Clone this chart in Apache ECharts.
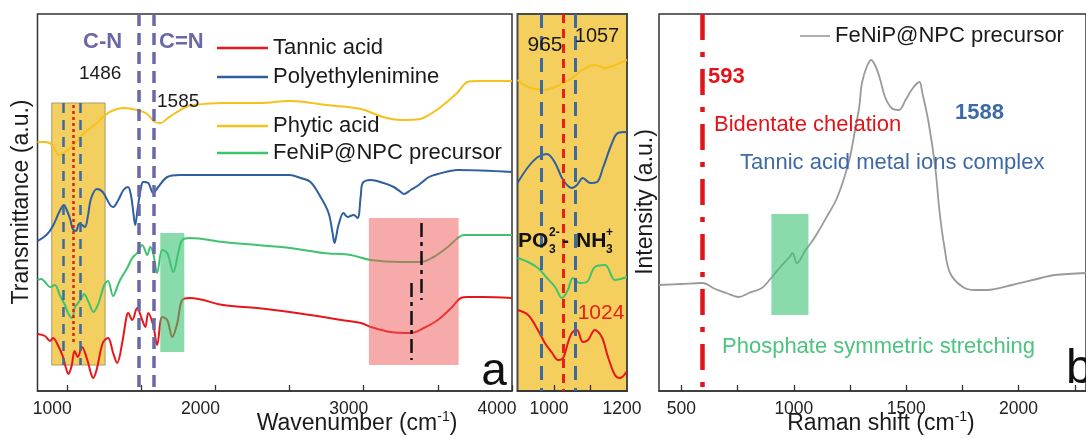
<!DOCTYPE html>
<html>
<head>
<meta charset="utf-8">
<script src="https://cdn.jsdelivr.net/npm/echarts@6/dist/echarts.min.js"></script>
<style>
  html, body { margin: 0; padding: 0; background: #fff; }
  #chart { width: 1086px; height: 438px; }
</style>
</head>
<body>
<div id="chart"></div>
<script>
// ---- FTIR spectra, 800-4000 cm-1 (wavenumber, transmittance a.u. with stacking offset) ----
const tannicFull = [[800,57],[850,55],[885,50],[905,53],[940,45],[970,35],[990,24],[1008,17],[1030,25],[1050,40],[1072,34],[1100,44],[1132,33],[1160,18],[1175,13],[1200,22],[1240,48],[1276,53],[1310,38],[1337,28],[1371,48],[1400,74],[1411,78],[1439,71],[1472,83],[1506,71],[1527,64],[1547,78],[1580,66],[1607,46],[1641,74],[1675,71],[1709,54],[1743,68],[1776,91],[1830,93],[2050,86],[2280,83],[2500,79],[2730,74],[2850,71],[2980,68],[3050,64],[3180,59],[3320,58],[3405,63],[3500,71],[3590,83],[3655,93],[3700,94],[3800,94],[4000,93]];
const peiFull = [[800,150],[860,156],[900,164],[950,180],[978,186],[1000,180],[1020,172],[1038,162],[1060,160],[1080,167],[1100,166],[1120,164],[1140,175],[1160,192],[1200,202],[1240,199],[1290,186],[1310,184],[1345,191],[1380,201],[1410,204],[1430,196],[1445,180],[1459,166],[1475,182],[1500,205],[1513,209],[1547,208],[1580,198],[1614,204],[1675,214],[1760,216],[1900,216],[2250,216],[2500,216],[2574,213],[2641,209],[2709,194],[2763,178],[2790,158],[2803,148],[2815,155],[2830,166],[2864,178],[2891,174],[2932,176],[2959,173],[2980,195],[2993,208],[3047,211],[3134,208],[3202,204],[3250,199],[3270,197],[3317,201],[3371,206],[3440,214],[3500,217],[3634,221],[4000,219]];
const phyticFull = [[800,249],[850,249],[900,246],[945,236],[975,238],[1020,243],[1060,249],[1100,256],[1120,259],[1150,262],[1200,268],[1250,275],[1300,280],[1380,283],[1470,281],[1540,277],[1590,269],[1630,268],[1680,273],[1720,277],[1800,284],[1850,286],[2050,288],[2300,288],[2500,290],[2600,289],[2750,286],[2980,282],[3130,274],[3250,271],[3380,272],[3450,277],[3520,284],[3630,298],[3700,309],[3770,310],[4000,310]];
const precursorFull = [[800,111],[825,112],[851,109],[884,104],[918,106],[950,96],[985,86],[1006,78],[1033,73],[1053,84],[1074,88],[1101,94],[1114,97],[1141,90],[1178,79],[1212,88],[1250,106],[1275,110],[1310,95],[1335,103],[1357,111],[1405,123],[1439,133],[1472,138],[1506,146],[1541,136],[1560,144],[1580,138],[1607,118],[1641,141],[1675,138],[1716,119],[1749,138],[1776,151],[1830,153],[2053,149],[2283,146],[2506,143],[2729,138],[2911,136],[3047,131],[3249,129],[3384,129],[3472,134],[3567,144],[3634,153],[3675,156],[4000,156]];

// ---- FTIR detail, 900-1200 cm-1 ----
const tannicDetail = [[901,81],[929,76],[956,61],[975,48],[995,38],[1011,31],[1025,33],[1038,48],[1049,58],[1063,61],[1079,49],[1093,51],[1112,61],[1131,54],[1148,34],[1167,16],[1181,13],[1200,20]];
const peiDetail = [[900,208],[929,224],[956,234],[981,237],[1003,228],[1025,211],[1049,203],[1063,206],[1079,213],[1099,208],[1118,209],[1134,223],[1159,248],[1175,258],[1200,259]];
const phyticDetail = [[900,311],[929,304],[967,301],[1003,304],[1049,313],[1077,321],[1112,326],[1140,323],[1167,326],[1200,331]];
const precursorDetail = [[900,133],[929,129],[956,123],[981,113],[1003,104],[1022,93],[1038,101],[1052,113],[1071,108],[1090,109],[1112,124],[1140,126],[1167,111],[1200,114]];

// ---- Raman spectrum of the precursor (Raman shift cm-1, intensity a.u.) ----
const ramanPrecursor = [[400,106],[500,107],[593,108],[650,102],[700,98],[754,94],[800,98],[858,103],[899,113],[940,124],[981,134],[994,138],[1014,128],[1052,141],[1076,148],[1105,158],[1146,174],[1188,191],[1221,211],[1250,234],[1270,258],[1291,284],[1303,308],[1324,324],[1344,331],[1361,326],[1381,314],[1406,294],[1435,283],[1468,281],[1497,291],[1530,303],[1559,309],[1571,299],[1600,268],[1629,224],[1649,178],[1670,144],[1695,118],[1752,104],[1806,101],[1860,101],[1971,106],[2100,113],[2160,116],[2300,118]];

// ---- axis ticks and labels ----
const ftirTicks = [1000, 1500, 2000, 2500, 3000, 3500, 4000];
const ftirLabels = [1000, 2000, 3000, 4000];
const detailTicks = [1000, 1100];
const detailLabels = [1000, 1200];
const ramanTicks = [500, 750, 1000, 1250, 1500, 1750, 2000, 2250];
const ramanLabels = [500, 1000, 1500, 2000];

// ---- band assignments ----
const cnBands = [1486, 1585];          // C-N and C=N
const phosphateBands = [975, 1085];    // P-O region marks, full spectrum
const chelationBand = 1038;            // chelation mark, full spectrum
const detailPhosphate = [965, 1057];
const detailChelation = 1024;
const ohBands = [3389, 3318];          // O-H shift, precursor / tannic acid
const ramanChelation = 593;

// highlighted ranges: [x0, x1, y0, y1]
const phosphateRange = [896, 1256, 26, 288];
const carbonylRange = [1628, 1790, 39, 158];
const hydroxylRange = [3035, 3640, 26, 173];
const ramanPhosphateRange = [900, 1065, 76, 177];

const FONT = '"Liberation Sans", Arial, sans-serif';
const C = {
  red: '#e8161b', blue: '#2f5f9e', yellow: '#f5c21c', green: '#3fc36e',
  gray: '#9a9a9a', band: '#6a68a6', dashBlue: '#3c6aa0', ink: '#1a1a1a'
};

const chart = echarts.init(document.getElementById('chart'), null, { renderer: 'canvas' });

function xAxisOf(gridIndex, min, max, ticks, labels, shift) {
  return {
    type: 'value', gridIndex, min, max,
    axisLine: { show: true, onZero: false, lineStyle: { color: '#333', width: 1.5 } },
    axisTick: { show: true, inside: true, length: 6, customValues: ticks, lineStyle: { color: '#333', width: 1.3 } },
    axisLabel: {
      show: true, customValues: labels, color: '#222', fontSize: 17.5, fontFamily: FONT, margin: 9,
      padding: [0, shift * 2, 0, 0], formatter: v => String(v)
    },
    splitLine: { show: false }
  };
}
function yAxisOf(gridIndex) {
  return { type: 'value', gridIndex, min: 0, max: 377, show: false };
}
function spectrum(name, data, color, axis, width) {
  return {
    type: 'line', name, data, xAxisIndex: axis, yAxisIndex: axis,
    smooth: 0.35, symbol: 'none', showSymbol: false, z: 3, silent: true,
    lineStyle: { color, width: width || 2 }, itemStyle: { color }
  };
}
function vline(x, y0, y1, color, width, dash) {
  return [
    { coord: [x, y1], lineStyle: { color, width, type: dash } },
    { coord: [x, y0] }
  ];
}
function markers(axis, lines) {
  return {
    type: 'line', data: [], xAxisIndex: axis, yAxisIndex: axis, z: 30, silent: true, symbol: 'none',
    markLine: { z: 30, silent: true, symbol: 'none', label: { show: false }, data: lines }
  };
}
function text(x, y, str, size, color, opts) {
  opts = opts || {};
  return {
    type: 'text', x, y, z: 50, rotation: opts.rotation || 0,
    style: {
      text: str, fill: color, font: (opts.bold ? 'bold ' : '') + size + 'px ' + FONT,
      textAlign: opts.align || 'left', textVerticalAlign: 'middle', rich: opts.rich
    }
  };
}
const supRich = {
  a: { fontSize: 23, fontFamily: FONT, fill: C.ink, color: C.ink, lineHeight: 28 },
  s: { fontSize: 14, fontFamily: FONT, fill: C.ink, color: C.ink, verticalAlign: 'top', lineHeight: 28, padding: [0, 0, 12, 0] }
};
const legendText = { fontSize: 22, fontFamily: FONT, color: C.ink, lineHeight: 26 };

const option = {
  animation: false,
  backgroundColor: '#ffffff',
  grid: [
    { left: 37.5, top: 14, width: 474.5, height: 377, show: true, borderColor: '#333', borderWidth: 1.5 },
    { left: 517.5, top: 14, width: 109.5, height: 377, show: true, borderColor: '#4a4a4a', borderWidth: 2, backgroundColor: '#f4cf5e' },
    { left: 659, top: 14, width: 461, height: 377, show: true, borderColor: '#333', borderWidth: 1.5 }
  ],
  xAxis: [
    xAxisOf(0, 800, 4000, ftirTicks, ftirLabels, 15),
    xAxisOf(1, 900, 1200, detailTicks, detailLabels, 5),
    xAxisOf(2, 400, 2300, ramanTicks, ramanLabels, 0)
  ],
  yAxis: [yAxisOf(0), yAxisOf(1), yAxisOf(2)],
  legend: [
    {
      data: ['Tannic acid', 'Polyethylenimine'], orient: 'vertical', left: 212, top: 30,
      icon: 'rect', itemWidth: 51, itemHeight: 2.5, itemGap: 3, selectedMode: false, textStyle: legendText
    },
    {
      data: ['Phytic acid', 'FeNiP@NPC precursor'], orient: 'vertical', left: 212, top: 108,
      icon: 'rect', itemWidth: 51, itemHeight: 2.5, itemGap: 1, selectedMode: false, textStyle: legendText
    },
    {
      data: ['FeNiP@NPC precursor (Raman)'], orient: 'vertical', left: 795, top: 18,
      icon: 'rect', itemWidth: 30, itemHeight: 1.6, selectedMode: false,
      formatter: () => 'FeNiP@NPC precursor', textStyle: legendText
    }
  ],
  series: [
    // phosphate region behind the spectra
    {
      type: 'line', data: [], xAxisIndex: 0, yAxisIndex: 0, z: 1, silent: true, symbol: 'none',
      markArea: { z: 1, silent: true, data: [[
        { coord: [phosphateRange[0], phosphateRange[3]], itemStyle: { color: '#f3cf5f', borderColor: '#a99a72', borderWidth: 1 } },
        { coord: [phosphateRange[1], phosphateRange[2]] }
      ]] }
    },
    spectrum('Tannic acid', tannicFull, C.red, 0),
    spectrum('Polyethylenimine', peiFull, C.blue, 0),
    spectrum('Phytic acid', phyticFull, C.yellow, 0),
    spectrum('FeNiP@NPC precursor', precursorFull, C.green, 0),
    // band markers, kept above the translucent highlight bands
    markers(0, [
      vline(cnBands[0], 0, 377, C.band, 3.5, [12, 7]),
      vline(cnBands[1], 0, 377, C.band, 3.5, [12, 7]),
      vline(phosphateBands[0], phosphateRange[2], phosphateRange[3], C.dashBlue, 2.5, [10, 7]),
      vline(phosphateBands[1], phosphateRange[2], phosphateRange[3], C.dashBlue, 2.5, [10, 7]),
      vline(chelationBand, 46, 286, '#e0201a', 2.5, [3, 3]),
      vline(ohBands[0], 91, 168, '#111', 2.5, [14, 5, 4, 5]),
      vline(ohBands[1], 31, 108, '#111', 2.5, [14, 5, 4, 5])
    ]),
    spectrum('Tannic acid', tannicDetail, C.red, 1),
    spectrum('Polyethylenimine', peiDetail, C.blue, 1),
    spectrum('Phytic acid', phyticDetail, C.yellow, 1),
    spectrum('FeNiP@NPC precursor', precursorDetail, C.green, 1),
    markers(1, [
      vline(detailPhosphate[0], 0, 377, C.dashBlue, 3, [14, 8]),
      vline(detailPhosphate[1], 0, 377, C.dashBlue, 3, [14, 8]),
      vline(detailChelation, 0, 377, '#e8201a', 3, [9, 6])
    ]),
    spectrum('FeNiP@NPC precursor (Raman)', ramanPrecursor, C.gray, 2, 1.8),
    markers(2, [vline(ramanChelation, 0, 377, '#e2141a', 4.5, [26, 12, 5, 12])])
  ],
  graphic: [
    // panel a annotations
    text(83, 42, 'C-N', 22, C.band, { bold: true }),
    text(159, 42, 'C=N', 22, C.band, { bold: true }),
    text(79, 74, '1486', 19, C.ink),
    text(157, 102, '1585', 19, C.ink),
    text(494, 372, 'a', 46, '#111', { align: 'center' }),
    // detail panel annotations
    text(545, 45, '965', 21, C.ink, { align: 'center' }),
    text(597, 36, '1057', 20, C.ink, { align: 'center' }),
    text(601, 313, '1024', 21, '#e8201a', { align: 'center' }),
    text(518, 241, 'PO', 21, '#111', { bold: true }),
    text(549, 233, '2-', 12, '#111', { bold: true }),
    text(549, 250, '3', 12, '#111', { bold: true }),
    text(562, 241, '-', 21, '#111', { bold: true }),
    text(576, 241, 'NH', 21, '#111', { bold: true }),
    text(606, 233, '+', 12, '#111', { bold: true }),
    text(606, 250, '3', 12, '#111', { bold: true }),
    // panel b annotations
    text(708, 77, '593', 22, '#e2141a', { bold: true }),
    text(714, 125, 'Bidentate chelation', 22, '#e2141a'),
    text(955, 113, '1588', 22, '#3d6aa5', { bold: true }),
    text(740, 163, 'Tannic acid metal ions complex', 22, '#3d6aa5'),
    text(722, 347, 'Phosphate symmetric stretching', 22, '#4cc47f'),
    text(1066, 370, 'b', 48, '#111'),
    // axis titles
    text(22, 202, 'Transmittance (a.u.)', 23, C.ink, { align: 'center', rotation: Math.PI / 2 }),
    text(646, 202, 'Intensity (a.u.)', 23, C.ink, { align: 'center', rotation: Math.PI / 2 }),
    text(357, 424, '{a|Wavenumber (cm}{s|-1}{a|)}', 23, C.ink, { align: 'center', rich: supRich }),
    text(881, 424, '{a|Raman shift (cm}{s|-1}{a|)}', 23, C.ink, { align: 'center', rich: supRich })
  ]
};

chart.setOption(option);

// translucent highlight bands, laid over the spectra through the axis scales
function bandRect(gridIndex, r, color, opacity) {
  const p0 = chart.convertToPixel({ gridIndex }, [r[0], r[3]]);
  const p1 = chart.convertToPixel({ gridIndex }, [r[1], r[2]]);
  return {
    type: 'rect', z: 20, silent: true,
    shape: { x: p0[0], y: p0[1], width: p1[0] - p0[0], height: p1[1] - p0[1] },
    style: { fill: color, opacity }
  };
}
chart.setOption({
  graphic: option.graphic.concat([
    bandRect(0, carbonylRange, '#3cc373', 0.6),
    bandRect(0, hydroxylRange, '#ee5555', 0.5),
    bandRect(2, ramanPhosphateRange, '#3cc373', 0.6)
  ])
});
</script>
</body>
</html>
